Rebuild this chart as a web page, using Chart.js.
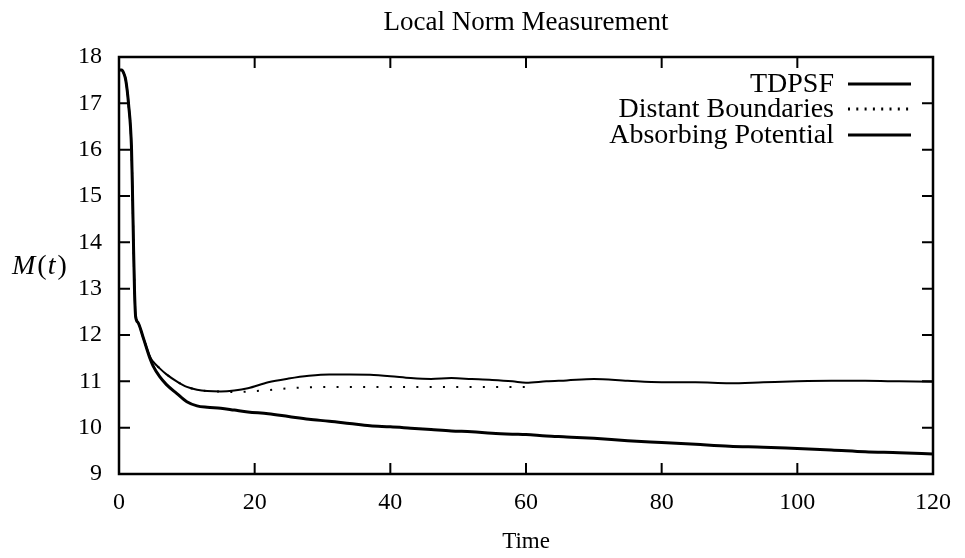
<!DOCTYPE html>
<html>
<head>
<meta charset="utf-8">
<script src="https://cdn.jsdelivr.net/npm/chart.js@4/dist/chart.umd.min.js"></script>
<style>
  html, body { margin: 0; padding: 0; background: #fff; }
  #wrap { width: 965px; height: 558px; }
</style>
</head>
<body>
<div id="wrap"><canvas id="myChart" width="965" height="558"></canvas></div>
<script>
// Temps (axe x)
const times = [0, 0.4, 0.7, 1.0, 1.4, 1.85, 2.0, 2.13, 2.28, 2.45,
    2.8, 3.6, 4.6, 5, 6, 7, 8.5, 10, 11.5, 13,
    15, 17, 19, 22, 25, 28, 31, 34, 37, 40,
    43, 46, 49, 52, 55, 58, 60, 63, 66, 70,
    75, 80, 85, 90, 95, 100, 105, 110, 115, 120];

const tdpsf = [17.72, 17.72, 17.65, 17.5, 17.0, 16.0, 15.0, 14.0, 13.0, 12.4,
    12.27, 11.93, 11.52, 11.43, 11.28, 11.15, 11.0, 10.88, 10.82, 10.79,
    10.78, 10.80, 10.85, 10.98, 11.06, 11.12, 11.15, 11.15, 11.14, 11.11,
    11.07, 11.05, 11.07, 11.05, 11.03, 11.00, 10.97, 11.00, 11.02, 11.05,
    11.01, 10.98, 10.98, 10.96, 10.98, 11.00, 11.01, 11.01, 11.00, 10.99];

const distant = [17.72, 17.72, 17.65, 17.5, 17.0, 16.0, 15.0, 14.0, 13.0, 12.4,
    12.27, 11.93, 11.52, 11.43, 11.28, 11.15, 11.0, 10.88, 10.82, 10.79,
    10.78, 10.77, 10.78, 10.81, 10.85, 10.87, 10.88, 10.88, 10.88, 10.88,
    10.88, 10.88, 10.88, 10.88, 10.88, 10.88, 10.88, null, null, null,
    null, null, null, null, null, null, null, null, null, null];

const absorbing = [17.72, 17.72, 17.65, 17.5, 17.0, 16.0, 15.0, 14.0, 13.0, 12.4,
    12.27, 11.93, 11.48, 11.34, 11.10, 10.93, 10.74, 10.56, 10.47, 10.44,
    10.42, 10.38, 10.34, 10.30, 10.24, 10.18, 10.14, 10.09, 10.04, 10.02,
    9.99, 9.96, 9.93, 9.91, 9.88, 9.86, 9.85, 9.82, 9.80, 9.77,
    9.72, 9.68, 9.64, 9.60, 9.58, 9.55, 9.52, 9.48, 9.46, 9.43];

const xTicks = [0, 20, 40, 60, 80, 100, 120];
const yTicks = [9, 10, 11, 12, 13, 14, 15, 16, 17, 18];

const serif = '"Liberation Serif", "DejaVu Serif", serif';

function pts(ys) {
    return times.map((t, i) => ({ x: t, y: ys[i] }));
}

// Dessin "à la gnuplot" : cadre, graduations intérieures, titres et légende
const gnuplotLook = {
    id: 'gnuplotLook',
    afterDraw(chart) {
        const ctx = chart.ctx;
        const a = chart.chartArea;
        const xs = chart.scales.x;
        const ys = chart.scales.y;
        ctx.save();
        ctx.strokeStyle = '#000';
        ctx.lineWidth = 2.5;
        ctx.strokeRect(a.left, a.top, a.right - a.left, a.bottom - a.top);

        ctx.lineWidth = 2;
        const tl = 11;
        ctx.beginPath();
        xTicks.forEach(v => {
            const px = xs.getPixelForValue(v);
            ctx.moveTo(px, a.bottom); ctx.lineTo(px, a.bottom - tl);
            ctx.moveTo(px, a.top); ctx.lineTo(px, a.top + tl);
        });
        yTicks.forEach(v => {
            const py = ys.getPixelForValue(v);
            ctx.moveTo(a.left, py); ctx.lineTo(a.left + tl, py);
            ctx.moveTo(a.right, py); ctx.lineTo(a.right - tl, py);
        });
        ctx.stroke();

        ctx.fillStyle = '#000';
        ctx.textBaseline = 'alphabetic';
        ctx.textAlign = 'center';
        ctx.font = '27px ' + serif;
        ctx.fillText('Local Norm Measurement', (a.left + a.right) / 2, 30);
        ctx.font = '23px ' + serif;
        ctx.fillText('Time', (a.left + a.right) / 2, 548);

        // M(t) horizontal
        let x = 12;
        const yb = 274;
        ctx.textAlign = 'left';
        const parts = [['M', 'italic ', 2], ['(', '', 1], ['t', 'italic ', 2], [')', '', 0]];
        parts.forEach(p => {
            ctx.font = p[1] + '28px ' + serif;
            ctx.fillText(p[0], x, yb);
            x += ctx.measureText(p[0]).width + p[2];
        });

        // légende
        ctx.font = '28px ' + serif;
        ctx.textAlign = 'right';
        const rows = [84, 109, 135];
        chart.data.datasets.forEach((ds, i) => {
            const y = rows[i];
            ctx.fillText(ds.label, 834, y + 8);
            ctx.beginPath();
            ctx.lineWidth = 3;
            ctx.setLineDash(ds.borderDash && ds.borderDash.length ? [2, 6.3] : []);
            ctx.moveTo(848, y); ctx.lineTo(911, y);
            ctx.stroke();
        });
        ctx.restore();
    }
};

const config = {
    type: 'line',
    data: {
        datasets: [{
            label: 'TDPSF',
            data: pts(tdpsf),
            borderColor: '#000',
            borderWidth: 2,
            pointRadius: 0,
            cubicInterpolationMode: 'monotone'
        }, {
            label: 'Distant Boundaries',
            data: pts(distant),
            borderColor: '#000',
            borderWidth: 2,
            borderDash: [2, 11.3],
            pointRadius: 0,
            spanGaps: false,
            cubicInterpolationMode: 'monotone'
        }, {
            label: 'Absorbing Potential',
            data: pts(absorbing),
            borderColor: '#000',
            borderWidth: 3,
            pointRadius: 0,
            cubicInterpolationMode: 'monotone'
        }]
    },
    options: {
        responsive: false,
        animation: false,
        layout: { padding: { top: 57, right: 30, left: 0, bottom: 0 } },
        plugins: {
            legend: { display: false },
            tooltip: { enabled: false },
            title: { display: false }
        },
        scales: {
            x: {
                type: 'linear',
                min: 0, max: 120,
                afterFit: s => { s.height = 84; },
                afterBuildTicks: s => { s.ticks = xTicks.map(v => ({ value: v })); },
                grid: { display: false, drawTicks: false },
                border: { display: false },
                ticks: { color: '#000', padding: 14, maxRotation: 0, font: { family: serif, size: 24 } }
            },
            y: {
                min: 9, max: 18,
                afterFit: s => { s.width = 119; },
                afterBuildTicks: s => { s.ticks = yTicks.map(v => ({ value: v })); },
                grid: { display: false, drawTicks: false },
                border: { display: false },
                ticks: { color: '#000', padding: 17, font: { family: serif, size: 24 } }
            }
        }
    },
    plugins: [gnuplotLook]
};

new Chart(document.getElementById('myChart'), config);
</script>
</body>
</html>
